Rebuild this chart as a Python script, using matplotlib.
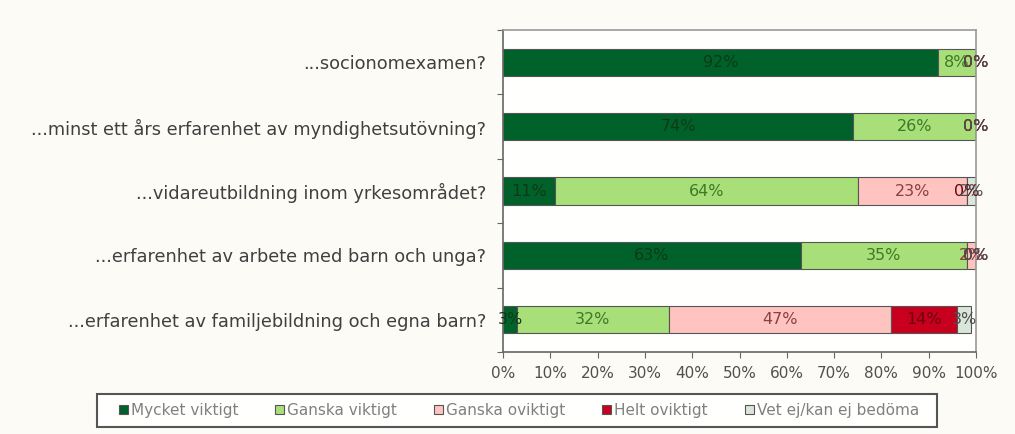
import matplotlib
matplotlib.use("Agg")
import matplotlib.pyplot as plt
import numpy as np
from matplotlib.ticker import FuncFormatter, FixedLocator
from matplotlib.patches import Rectangle

categories = [
    "...socionomexamen?",
    "...minst ett års erfarenhet av myndighetsutövning?",
    "...vidareutbildning inom yrkesområdet?",
    "...erfarenhet av arbete med barn och unga?",
    "...erfarenhet av familjebildning och egna barn?",
]
series_names = ["Mycket viktigt", "Ganska viktigt", "Ganska oviktigt", "Helt oviktigt", "Vet ej/kan ej bedöma"]
mycket_viktigt = [92, 74, 11, 63, 3]
ganska_viktigt = [8, 26, 64, 35, 32]
ganska_oviktigt = [0, 0, 23, 2, 47]
helt_oviktigt = [0, 0, 0, 0, 14]
vet_ej = [0, 0, 2, 0, 3]
x_ticks = [0, 10, 20, 30, 40, 50, 60, 70, 80, 90, 100]

series = [mycket_viktigt, ganska_viktigt, ganska_oviktigt, helt_oviktigt, vet_ej]
colors = ["#00622a", "#a9df78", "#ffc4c0", "#c8001e", "#d9e6d9"]
text_colors = ["#0d3a16", "#3b7a2a", "#8a4040", "#6a0010", "#505050"]

fig = plt.figure(figsize=(10.15, 4.34), dpi=100)
fig.patch.set_facecolor("#fcfbf6")
ax = fig.add_axes([503/1015, 1-352/434, (976-503)/1015, (352-30)/434])
ax.set_facecolor("#fffffd")

n = len(categories)
ypos = np.arange(n)[::-1]
left = np.zeros(n)
for vals, c, tc, name in zip(series, colors, text_colors, series_names):
    v = np.array(vals, dtype=float)
    ax.barh(ypos, v, left=left, height=0.42, color=c, edgecolor="#555555",
            linewidth=0.8, label=name)
    for y, l, w in zip(ypos, left, v):
        ax.text(l + w/2, y, f"{int(w)}%", ha="center", va="center",
                fontsize=11.5, color=tc)
    left += v

ax.set_xlim(0, 100)
ax.set_ylim(-0.5, n - 0.5)
ax.xaxis.set_major_locator(FixedLocator(x_ticks))
ax.xaxis.set_major_formatter(FuncFormatter(lambda x, p: f"{int(x)}%"))
ax.tick_params(axis="x", direction="out", length=4, color="#666666",
               labelcolor="#505050", labelsize=11, pad=6)

ax.set_yticks(np.arange(-0.5, n, 1.0))
ax.set_yticklabels([])
ax.set_yticks(ypos, minor=True)
ax.set_yticklabels(categories, minor=True)
ax.tick_params(axis="y", which="major", direction="out", length=4, color="#666666")
ax.tick_params(axis="y", which="minor", length=0, labelcolor="#404040",
               labelsize=12.8, pad=12)

for s in ax.spines.values():
    s.set_color("#999999")
    s.set_linewidth(1.2)
ax.spines["bottom"].set_color("#666666")
ax.spines["left"].set_color("#666666")

# legend frame
W, H = 1015, 434
frame = Rectangle((97/W, 1-427/H), (937-97)/W, (427-394)/H, transform=fig.transFigure,
                  facecolor="#fffffd", edgecolor="#555555", linewidth=1.5, zorder=0)
fig.patches.append(frame)
leg = fig.legend(loc="center", bbox_to_anchor=((122+916)/2/W, 1-410.5/H),
                 ncol=5, frameon=False, fontsize=11,
                 handlelength=0.6, handleheight=0.6, handletextpad=0.2,
                 columnspacing=2.4, borderpad=0.3)
for t in leg.get_texts():
    t.set_color("#808080")

fig.savefig("out.png", dpi=100, facecolor=fig.get_facecolor())
